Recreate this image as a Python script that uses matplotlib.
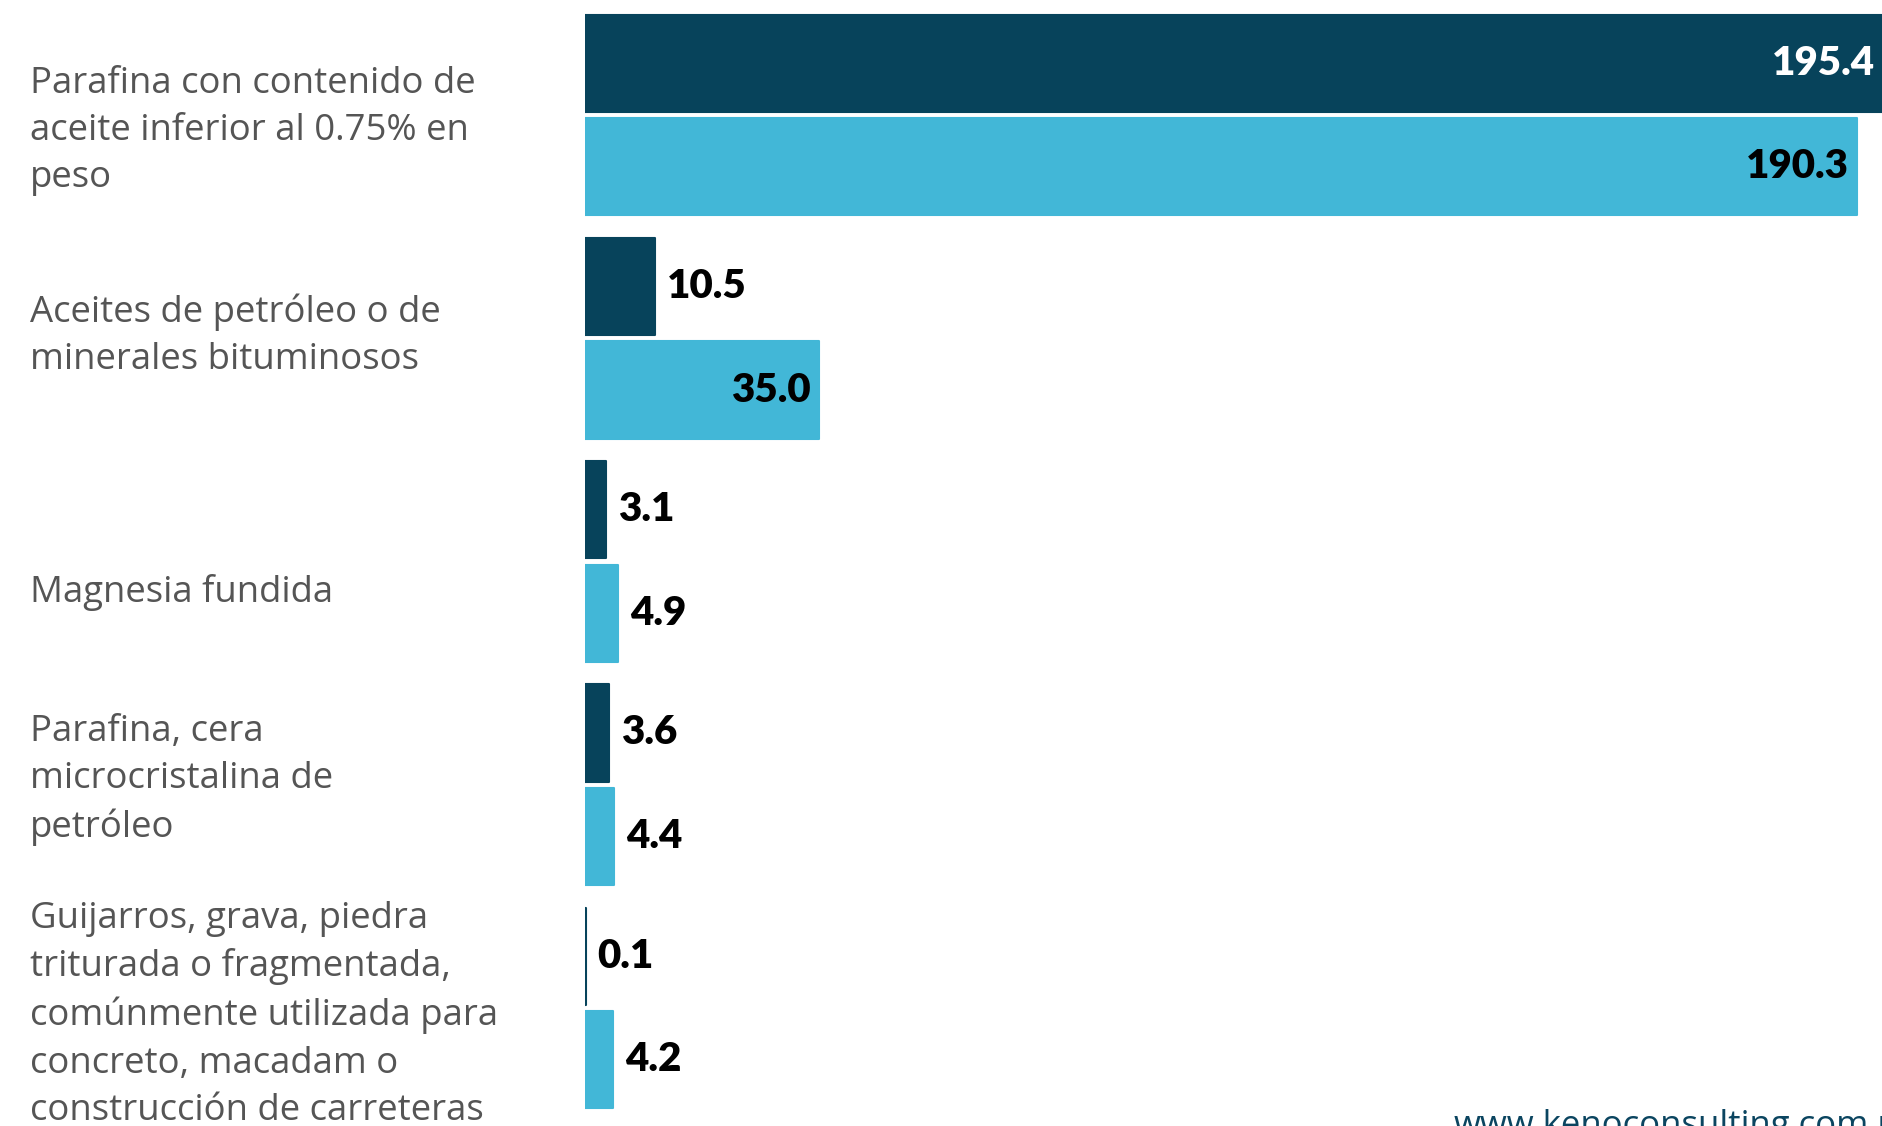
import matplotlib
matplotlib.use("Agg")
import matplotlib.pyplot as plt
from matplotlib.transforms import blended_transform_factory

categories = [
    "Parafina con contenido de\naceite inferior al 0.75% en\npeso",
    "Aceites de petróleo o de\nminerales bituminosos",
    "Magnesia fundida",
    "Parafina, cera\nmicrocristalina de\npetróleo",
    "Guijarros, grava, piedra\ntriturada o fragmentada,\ncomúnmente utilizada para\nconcreto, macadam o\nconstrucción de carreteras",
]
serie_a = [195.4, 10.5, 3.1, 3.6, 0.1]
serie_b = [190.3, 35.0, 4.9, 4.4, 4.2]

dark = "#07435B"
light = "#42B7D7"

W, H = 1883, 1126
fig = plt.figure(figsize=(W / 100, H / 100), dpi=100)
left = 585 / W
ax = fig.add_axes([left, 0, 1 - left, 1])

pitch = 223.25
ax.set_xlim(0, (W - 585) / 6.684)
ax.set_ylim(4 + (H - 1008) / pitch, -115 / pitch)
ax.axis("off")

h = 0.435
off = 0.232
ypos = list(range(len(categories)))
ax.barh([y - off for y in ypos], serie_a, height=h, color=dark,
        edgecolor=dark, linewidth=1.5, joinstyle="round")
ax.barh([y + off for y in ypos], serie_b, height=h, color=light,
        edgecolor=light, linewidth=1.5, joinstyle="round")

vfont = dict(fontsize=29, fontweight="heavy", family=["Lato", "DejaVu Sans"])
pad = 12 / 6.684
for y, a, b in zip(ypos, serie_a, serie_b):
    for v, yy, col in ((a, y - off, "white"), (b, y + off, "black")):
        txt = f"{v:.1f}"
        if v > 20:
            ax.text(min(v, 194.2) - pad * 0.7, yy, txt, ha="right", va="center",
                    color=col, **vfont)
        else:
            ax.text(v + pad, yy, txt, ha="left", va="center", color="black", **vfont)

# category labels on the left
tr = blended_transform_factory(fig.transFigure, ax.transData)
label_shift = [0.07, -0.01, 0.14, -0.02, 0.03]
for y, lab, s in zip(ypos, categories, label_shift):
    fig.text(30 / W, y + s, lab, transform=tr, ha="left", va="center",
             fontsize=26.3, color="#555555", linespacing=1.41,
             family=["Open Sans", "DejaVu Sans"])

fig.text(1454 / W, -9 / H, "www.kenoconsulting.com.mx", ha="left", va="baseline",
         fontsize=25, color="#0B4560", family=["Open Sans", "DejaVu Sans"])

fig.savefig("out.png", dpi=100)
